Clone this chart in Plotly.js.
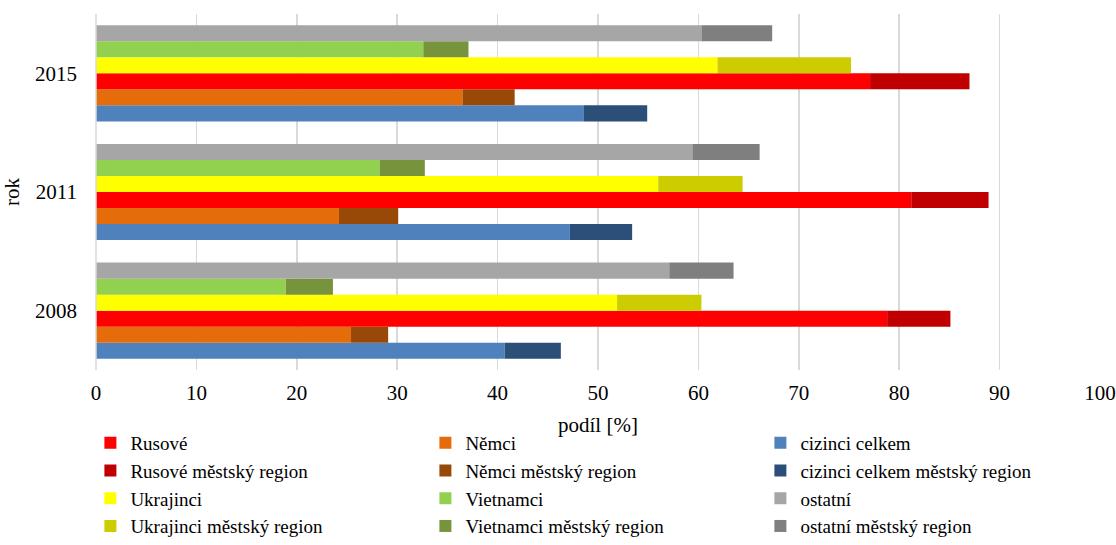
<!DOCTYPE html>
<html>
<head>
<meta charset="utf-8">
<script src="https://cdn.plot.ly/plotly-3.0.1.min.js"></script>
<style>html,body{margin:0;padding:0;background:#fff;}#chart{width:1116px;height:545px;}</style>
</head>
<body>
<div id="chart"></div>
<script>
const years = ['2008', '2011', '2015'];

const cizinci = [40.7, 47.2, 48.6];
const cizinciMR = [5.6, 6.2, 6.3];
const nemci = [25.4, 24.2, 36.5];
const nemciMR = [3.7, 5.9, 5.2];
const rusove = [78.8, 81.2, 77.1];
const rusoveMR = [6.3, 7.7, 9.9];
const ukrajinci = [51.9, 56.0, 61.9];
const ukrajinciMR = [8.4, 8.4, 13.3];
const vietnamci = [18.9, 28.25, 32.6];
const vietnamciMR = [4.7, 4.5, 4.5];
const ostatni = [57.1, 59.4, 60.3];
const ostatniMR = [6.4, 6.7, 7.05];

const xTicks = [0, 10, 20, 30, 40, 50, 60, 70, 80, 90, 100];
const xTitle = 'podíl [%]';
const yTitle = 'rok';

// [name, base values, MR values, base colour, MR colour, legend rank base, legend rank MR]
const series = [
  ['cizinci celkem', cizinci, cizinciMR, '#4F81BD', '#2C4F7A', 3, 6],
  ['Němci', nemci, nemciMR, '#E46C0A', '#984807', 2, 5],
  ['Rusové', rusove, rusoveMR, '#FF0000', '#C00000', 1, 4],
  ['Ukrajinci', ukrajinci, ukrajinciMR, '#FFFF00', '#CCCC00', 7, 10],
  ['Vietnamci', vietnamci, vietnamciMR, '#92D050', '#77933C', 8, 11],
  ['ostatní', ostatni, ostatniMR, '#A6A6A6', '#7F7F7F', 9, 12]
];

const traces = [];
series.forEach(function (s) {
  traces.push({
    type: 'bar', orientation: 'h', name: s[0], y: years, x: s[1],
    offsetgroup: s[0], marker: {color: s[3]}, legendrank: s[5],
    hoverinfo: 'x+name'
  });
  traces.push({
    type: 'bar', orientation: 'h', name: s[0] + ' městský region', y: years, x: s[2],
    base: s[1], offsetgroup: s[0], marker: {color: s[4]}, legendrank: s[6],
    hoverinfo: 'x+name'
  });
});

const layout = {
  width: 1116, height: 545,
  margin: {l: 96, r: 16, t: 14, b: 175},
  paper_bgcolor: '#fff', plot_bgcolor: '#fff',
  font: {family: '"Liberation Serif", "Times New Roman", serif', size: 21, color: '#000'},
  barmode: 'group', bargap: 0.19, bargroupgap: 0,
  showlegend: true,
  legend: {
    orientation: 'h', xref: 'container', yref: 'container',
    x: 0.081, xanchor: 'left', y: 0.0, yanchor: 'bottom',
    entrywidth: 290, entrywidthmode: 'pixels', traceorder: 'normal',
    font: {size: 19}, itemwidth: 30, tracegroupgap: 0, bgcolor: 'rgba(0,0,0,0)'
  },
  xaxis: {
    range: [0, 100], tickvals: xTicks, ticktext: xTicks.map(String),
    showgrid: true, gridcolor: '#D9D9D9', gridwidth: 1.5,
    zeroline: false, showline: false, ticks: '',
    ticklabelstandoff: 8,
    fixedrange: true, automargin: false
  },
  yaxis: {
    type: 'category', categoryorder: 'array', categoryarray: years,
    showgrid: false, zeroline: false, showline: false, ticks: '',
    ticklabelstandoff: 18,
    title: {text: yTitle, font: {size: 21}, standoff: 10},
    fixedrange: true, automargin: false
  },
  annotations: [{
    text: xTitle, xref: 'paper', yref: 'paper', x: 0.5, y: -0.155,
    xanchor: 'center', yanchor: 'middle', showarrow: false, font: {size: 21}
  }],
  shapes: [{type: 'line', xref: 'paper', yref: 'paper', x0: 0, x1: 0, y0: 0, y1: 1,
            line: {color: '#D9D9D9', width: 1.5}}]
};

Plotly.newPlot('chart', traces, layout, {displayModeBar: false, staticPlot: true});
</script>
</body>
</html>
